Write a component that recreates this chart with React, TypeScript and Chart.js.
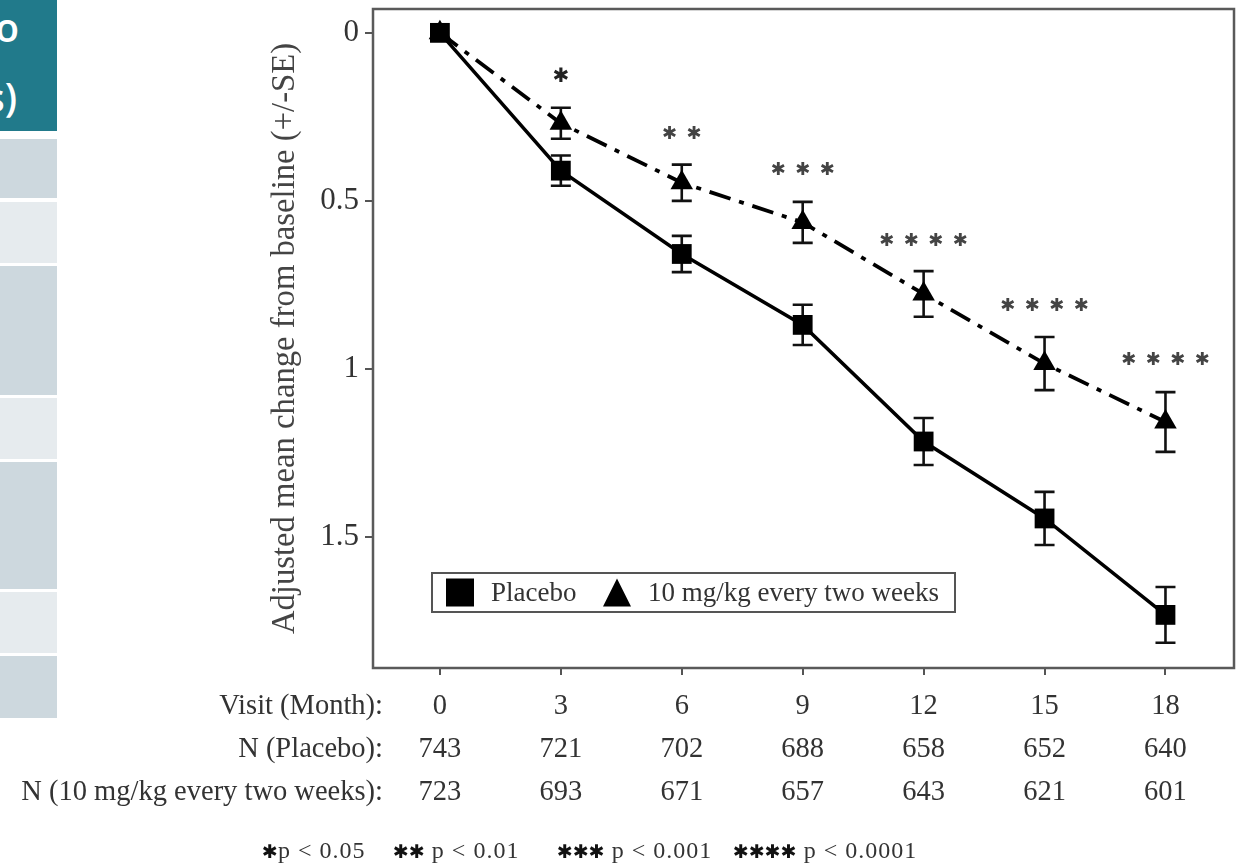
import React, { useEffect, useRef } from "react";
import { Chart, registerables } from "chart.js";

Chart.register(...registerables);

// ---- data ----
const months = [0, 3, 6, 9, 12, 15, 18];
const placeboMean = [0, 0.41, 0.658, 0.869, 1.216, 1.445, 1.732];
const placeboSE = [0, 0.045, 0.054, 0.06, 0.07, 0.079, 0.083];
const drugMean = [0, 0.269, 0.446, 0.564, 0.777, 0.984, 1.158];
const drugSE = [0, 0.046, 0.054, 0.061, 0.068, 0.079, 0.089];
const sigStars = [0, 1, 2, 3, 4, 4, 4];
const sigY = [0, 0.125, 0.295, 0.402, 0.613, 0.807, 0.967];
const nPlacebo = ["743", "721", "702", "688", "658", "652", "640"];
const nDrug = ["723", "693", "671", "657", "643", "621", "601"];
const rowLabels = ["Visit (Month):", "N (Placebo):", "N (10 mg/kg every two weeks):"];
const seriesLabels = ["Placebo", "10 mg/kg every two weeks"];
const yTitle = "Adjusted mean change from baseline (+/-SE)";
const footStars = ["✱", "✱✱", "✱✱✱", "✱✱✱✱"];
const footText = ["p < 0.05", "p < 0.01", "p < 0.001", "p < 0.0001"];

const serif = "'Liberation Serif', 'Times New Roman', Times, serif";
const TICK_LEN = 7;
const TICK_PAD = 10;
const ROW_LH = 43;
const ROW_FONT = 28.5;

export default function App() {
  const ref = useRef<HTMLCanvasElement | null>(null);

  useEffect(() => {
    const canvas = ref.current;
    if (!canvas) return;

    const boxPlugin = {
      id: "boxPlugin",
      afterDraw(chart: any) {
        const { ctx, chartArea: a } = chart;
        ctx.save();
        ctx.strokeStyle = "#5a5a5a";
        ctx.lineWidth = 2.5;
        ctx.strokeRect(a.left, a.top, a.right - a.left, a.bottom - a.top);
        ctx.restore();
      },
    };

    const errorBarPlugin = {
      id: "errorBars",
      beforeDatasetsDraw(chart: any) {
        const { ctx } = chart;
        const xs = chart.scales.x;
        const ys = chart.scales.y;
        ctx.save();
        ctx.strokeStyle = "#111";
        ctx.lineWidth = 2.6;
        chart.data.datasets.forEach((ds: any) => {
          const errs: number[] = ds.errors || [];
          ds.data.forEach((p: any, j: number) => {
            const e = errs[j];
            if (!e) return;
            const x = xs.getPixelForValue(p.x);
            const y1 = ys.getPixelForValue(p.y - e);
            const y2 = ys.getPixelForValue(p.y + e);
            const cw = 10;
            ctx.beginPath();
            ctx.moveTo(x, y1);
            ctx.lineTo(x, y2);
            ctx.moveTo(x - cw, y1);
            ctx.lineTo(x + cw, y1);
            ctx.moveTo(x - cw, y2);
            ctx.lineTo(x + cw, y2);
            ctx.stroke();
          });
        });
        ctx.restore();
      },
    };

    const starPlugin = {
      id: "stars",
      afterDatasetsDraw(chart: any) {
        const { ctx } = chart;
        const xs = chart.scales.x;
        const ys = chart.scales.y;
        ctx.save();
        ctx.textAlign = "center";
        ctx.textBaseline = "alphabetic";
        const gap = 24.5;
        months.forEach((mo, i) => {
          const n = sigStars[i];
          if (!n) return;
          ctx.fillStyle = n === 1 ? "#222" : "#444";
          ctx.font = (n === 1 ? "20px" : "18px") + " 'DejaVu Sans', sans-serif";
          const m = ctx.measureText("✱");
          const off = (m.actualBoundingBoxAscent - m.actualBoundingBoxDescent) / 2;
          const cx = xs.getPixelForValue(mo);
          const cy = ys.getPixelForValue(sigY[i]);
          for (let k = 0; k < n; k++) {
            const x = cx + (k - (n - 1) / 2) * gap;
            ctx.fillText("✱", x, cy + off);
          }
        });
        ctx.restore();
      },
    };

    const legendPlugin = {
      id: "boxLegend",
      afterDraw(chart: any) {
        const { ctx, chartArea: a } = chart;
        const left = a.left + 59;
        const top = a.bottom - 95;
        const w = 523;
        const h = 39;
        const cy = top + h / 2;
        ctx.save();
        ctx.fillStyle = "#fff";
        ctx.fillRect(left, top, w, h);
        ctx.strokeStyle = "#555";
        ctx.lineWidth = 2;
        ctx.strokeRect(left, top, w, h);
        ctx.fillStyle = "#000";
        ctx.fillRect(left + 14, cy - 14, 28, 28);
        ctx.beginPath();
        ctx.moveTo(left + 185, cy - 14);
        ctx.lineTo(left + 199, cy + 14);
        ctx.lineTo(left + 171, cy + 14);
        ctx.closePath();
        ctx.fill();
        ctx.fillStyle = "#333";
        ctx.font = `27px ${serif}`;
        ctx.textAlign = "left";
        ctx.textBaseline = "middle";
        ctx.fillText(chart.data.datasets[0].label, left + 59, cy + 1);
        ctx.fillText(chart.data.datasets[1].label, left + 216, cy + 1);
        ctx.restore();
      },
    };

    const rowLabelPlugin = {
      id: "rowLabels",
      afterDraw(chart: any) {
        const { ctx, chartArea: a } = chart;
        const xs = chart.scales.x;
        ctx.save();
        ctx.fillStyle = "#333";
        ctx.font = `${ROW_FONT}px ${serif}`;
        ctx.textAlign = "right";
        ctx.textBaseline = "middle";
        rowLabels.forEach((t, i) => {
          const y = xs.top + TICK_LEN + TICK_PAD + ROW_LH * (i + 0.5);
          ctx.fillText(t, a.left + 10, y);
        });
        ctx.restore();
      },
    };

    const chart = new Chart(canvas, {
      type: "line",
      data: {
        datasets: [
          {
            label: seriesLabels[0],
            data: months.map((m, i) => ({ x: m, y: placeboMean[i] })),
            borderColor: "#000",
            backgroundColor: "#000",
            borderWidth: 3.5,
            pointStyle: "rect",
            pointRadius: 14,
            pointBorderWidth: 0,
            pointBackgroundColor: "#000",
            tension: 0,
            errors: placeboSE,
          } as any,
          {
            label: seriesLabels[1],
            data: months.map((m, i) => ({ x: m, y: drugMean[i] })),
            borderColor: "#000",
            backgroundColor: "#000",
            borderWidth: 3.8,
            borderDash: [22, 9, 5, 9],
            pointStyle: "triangle",
            pointRadius: 13,
            pointBorderWidth: 0,
            pointBackgroundColor: "#000",
            tension: 0,
            errors: drugSE,
          } as any,
        ],
      },
      options: {
        animation: false,
        responsive: false,
        maintainAspectRatio: false,
        layout: { autoPadding: false, padding: { left: 266, top: 9, right: 11, bottom: 0 } },
        plugins: {
          legend: { display: false },
          tooltip: { enabled: false },
        },
        scales: {
          x: {
            type: "linear",
            min: -1.66,
            max: 19.7,
            border: { display: false },
            grid: {
              display: true,
              drawOnChartArea: false,
              drawTicks: true,
              tickLength: TICK_LEN,
              color: "#555",
              lineWidth: 2,
            },
            ticks: {
              stepSize: 3,
              includeBounds: false,
              autoSkip: false,
              maxRotation: 0,
              padding: TICK_PAD,
              color: "#333",
              font: { family: serif, size: ROW_FONT, lineHeight: ROW_LH / ROW_FONT },
              callback: (v: any) => {
                const i = months.indexOf(Number(v));
                return i < 0 ? "" : [String(months[i]), nPlacebo[i], nDrug[i]];
              },
            },
            afterFit: (s: any) => {
              s.height = 198;
              s.paddingLeft = 0;
              s.paddingRight = 0;
            },
          },
          y: {
            type: "linear",
            reverse: true,
            min: -0.071,
            max: 1.89,
            border: { display: false },
            grid: {
              display: true,
              drawOnChartArea: false,
              drawTicks: true,
              tickLength: 8,
              color: "#555",
              lineWidth: 2,
            },
            ticks: {
              stepSize: 0.5,
              includeBounds: false,
              padding: 6,
              color: "#333",
              font: { family: serif, size: 31 },
              callback: (v: any) => String(Number(v)),
            },
            title: {
              display: true,
              text: yTitle,
              color: "#444",
              font: { family: serif, size: 32.7 },
              padding: { top: 0, bottom: 0 },
            },
            afterFit: (s: any) => {
              s.width = 107;
              s.paddingTop = 0;
              s.paddingBottom = 0;
            },
          },
        },
      } as any,
      plugins: [errorBarPlugin, starPlugin, boxPlugin, legendPlugin, rowLabelPlugin],
    });

    return () => chart.destroy();
  }, []);

  const rows = [
    { top: 139, h: 59, c: "#cdd8de" },
    { top: 202, h: 61, c: "#e6ebee" },
    { top: 266, h: 129, c: "#cdd8de" },
    { top: 398, h: 61, c: "#e6ebee" },
    { top: 462, h: 127, c: "#cdd8de" },
    { top: 592, h: 61, c: "#e6ebee" },
    { top: 656, h: 62, c: "#cdd8de" },
  ];
  const footLeft = [262, 393, 557, 733];

  return (
    <div style={{ position: "absolute", left: 0, top: 0, width: 1245, height: 866, background: "#fff", overflow: "hidden" }}>
      <canvas ref={ref} width={1245} height={866} style={{ position: "absolute", left: 0, top: 0 }} />
      <div style={{ position: "absolute", left: 0, top: 0, width: 57, height: 131, background: "#217a8b", overflow: "hidden" }}>
        <span style={{ position: "absolute", right: 38, top: 7, color: "#fff", fontFamily: "'Open Sans', sans-serif", fontWeight: 600, fontSize: 39, lineHeight: 1, whiteSpace: "nowrap" }}>to</span>
        <span style={{ position: "absolute", right: 40, top: 77, color: "#fff", fontFamily: "'Open Sans', sans-serif", fontWeight: 600, fontSize: 39, lineHeight: 1, whiteSpace: "nowrap" }}>s)</span>
      </div>
      {rows.map((r, i) => (
        <div key={i} style={{ position: "absolute", left: 0, top: r.top, width: 57, height: r.h, background: r.c }} />
      ))}
      {footStars.map((s, i) => (
        <div key={i} style={{ position: "absolute", left: footLeft[i], top: 836, fontFamily: serif, fontSize: 24, letterSpacing: 1, color: "#333", whiteSpace: "nowrap", lineHeight: "28px" }}>
          <span style={{ fontFamily: "'DejaVu Sans', sans-serif", fontSize: 19, color: "#111", letterSpacing: 0 }}>{s}</span>
          {i === 0 ? "" : " "}
          {footText[i]}
        </div>
      ))}
    </div>
  );
}
